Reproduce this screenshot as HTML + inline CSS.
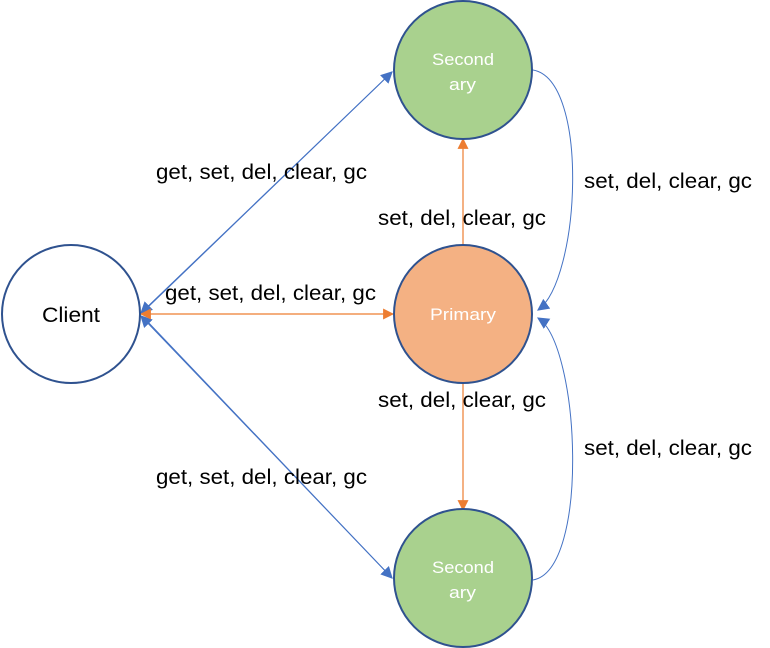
<!DOCTYPE html>
<html><head><meta charset="utf-8"><style>
html,body{margin:0;padding:0;background:#fff;}
svg{display:block}
text{font-family:"Liberation Sans",sans-serif;}
</style></head><body>
<svg width="770" height="648" viewBox="0 0 770 648" xmlns="http://www.w3.org/2000/svg">
<defs>
<marker id="ab" viewBox="0 0 10 10" refX="9" refY="5" markerWidth="12" markerHeight="12" markerUnits="userSpaceOnUse" orient="auto"><path d="M0,0L10,5L0,10z" fill="#4472C4"/></marker>
<marker id="ao" viewBox="0 0 10 10" refX="9" refY="5" markerWidth="11" markerHeight="11" markerUnits="userSpaceOnUse" orient="auto"><path d="M0,0L10,5L0,10z" fill="#ED7D31"/></marker>
<marker id="aos" viewBox="0 0 10 10" refX="1" refY="5" markerWidth="11" markerHeight="11" markerUnits="userSpaceOnUse" orient="auto"><path d="M10,0L0,5L10,10z" fill="#ED7D31"/></marker>
</defs>
<line x1="146" y1="309" x2="392" y2="72" stroke="#4472C4" stroke-width="1" marker-end="url(#ab)"/>
<line x1="392" y1="72" x2="141" y2="313" stroke="#4472C4" stroke-width="1" marker-end="url(#ab)"/>
<line x1="146" y1="320" x2="392" y2="578" stroke="#4472C4" stroke-width="1" marker-end="url(#ab)"/>
<line x1="392" y1="578" x2="141" y2="316" stroke="#4472C4" stroke-width="1" marker-end="url(#ab)"/>
<line x1="141" y1="314" x2="393" y2="314" stroke="#ED7D31" stroke-width="1.2" marker-start="url(#aos)" marker-end="url(#ao)"/>
<line x1="463" y1="246" x2="463" y2="139" stroke="#ED7D31" stroke-width="1.2" marker-end="url(#ao)"/>
<line x1="463" y1="382" x2="463" y2="510" stroke="#ED7D31" stroke-width="1.2" marker-end="url(#ao)"/>
<path d="M533,70 C590,80 580,280 538,310" fill="none" stroke="#4472C4" stroke-width="1" marker-end="url(#ab)"/>
<path d="M533,580 C590,570 580,345 538,318" fill="none" stroke="#4472C4" stroke-width="1" marker-end="url(#ab)"/>
<circle cx="71" cy="314" r="69" fill="#fff" stroke="#2F528F" stroke-width="2"/>
<circle cx="463" cy="70" r="69" fill="#A9D18E" stroke="#2F528F" stroke-width="2"/>
<circle cx="463" cy="314" r="69" fill="#F4B183" stroke="#2F528F" stroke-width="2"/>
<circle cx="463" cy="578" r="69" fill="#A9D18E" stroke="#2F528F" stroke-width="2"/>
<text x="42" y="322" font-size="21" textLength="58" lengthAdjust="spacingAndGlyphs" fill="#000">Client</text>
<g font-size="17" fill="#fff">
<text x="432" y="65" textLength="62" lengthAdjust="spacingAndGlyphs">Second</text>
<text x="449" y="90" textLength="27" lengthAdjust="spacingAndGlyphs">ary</text>
<text x="430" y="320" textLength="66" lengthAdjust="spacingAndGlyphs">Primary</text>
<text x="432" y="573" textLength="62" lengthAdjust="spacingAndGlyphs">Second</text>
<text x="449" y="598" textLength="27" lengthAdjust="spacingAndGlyphs">ary</text>
</g>
<g font-size="21" fill="#000">
<text x="156" y="179" textLength="211" lengthAdjust="spacingAndGlyphs">get, set, del, clear, gc</text>
<text x="165" y="300" textLength="211" lengthAdjust="spacingAndGlyphs">get, set, del, clear, gc</text>
<text x="156" y="484" textLength="211" lengthAdjust="spacingAndGlyphs">get, set, del, clear, gc</text>
<text x="378" y="225" textLength="168" lengthAdjust="spacingAndGlyphs">set, del, clear, gc</text>
<text x="378" y="407" textLength="168" lengthAdjust="spacingAndGlyphs">set, del, clear, gc</text>
<text x="584" y="188" textLength="168" lengthAdjust="spacingAndGlyphs">set, del, clear, gc</text>
<text x="584" y="455" textLength="168" lengthAdjust="spacingAndGlyphs">set, del, clear, gc</text>
</g>
</svg>
</body></html>
